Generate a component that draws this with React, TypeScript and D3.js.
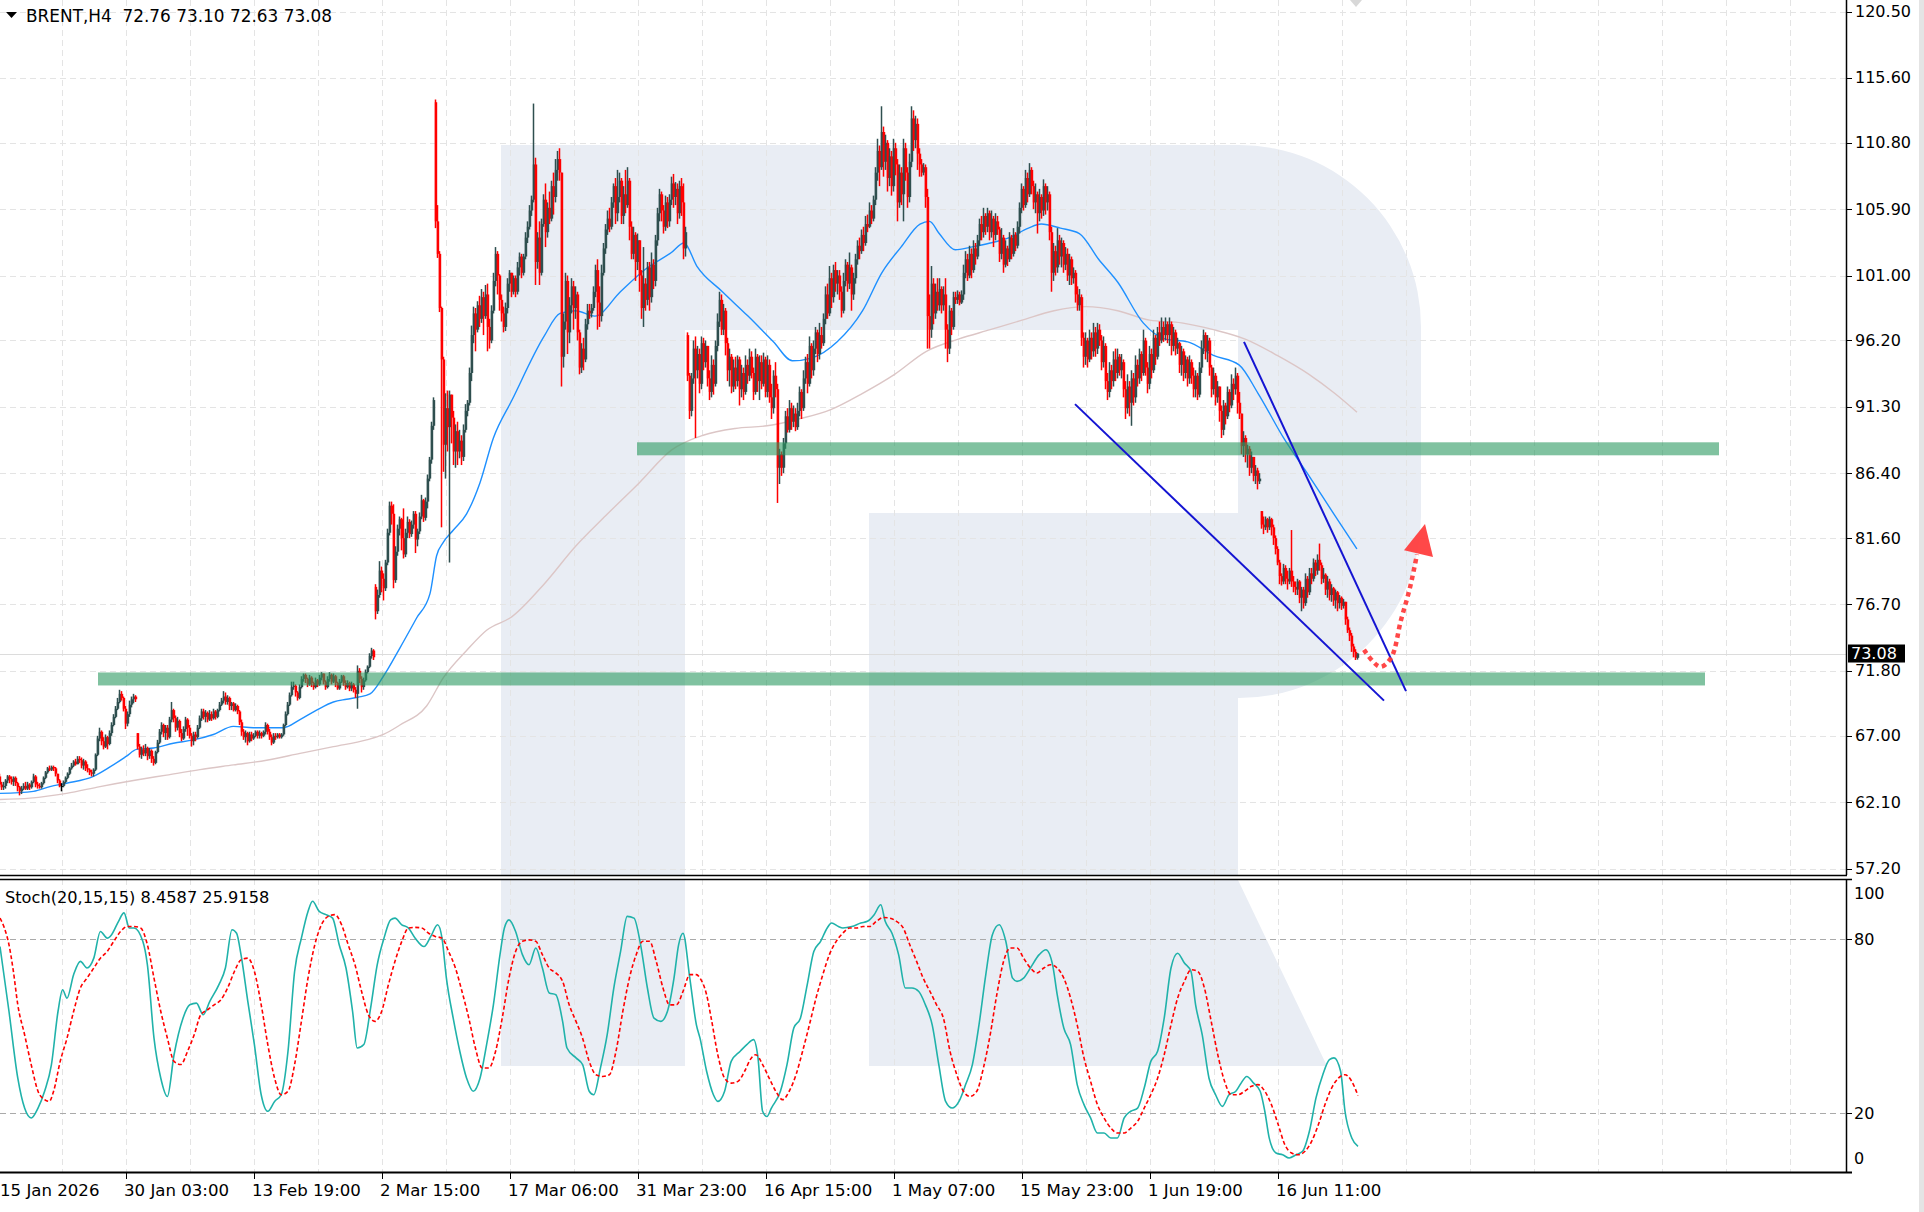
import React from "react";
import * as d3 from "d3";

// ---------- DATA ----------
// candles per block of 64 bars: [high, low, close, open?] (open given only where it differs from the previous close)
const blockJan = [
[64.2,63.2,63.4,64.0],[63.6,63.0,63.2],[63.6,63.0,63.3],[63.8,63.1,63.7],[64.1,63.5,64.0],[64.1,63.5,63.8],[64.0,63.4,63.6],[64.0,63.3,63.9],
[64.0,63.3,63.5],[63.6,62.9,63.2],[63.3,62.6,62.9],[63.3,62.7,63.1],[63.5,63.0,63.3],[63.6,63.0,63.1],[63.6,63.0,63.4],[63.5,63.0,63.2],
[63.7,63.1,63.6],[64.2,63.5,64.0],[64.1,63.2,63.4],[63.6,63.1,63.3],[63.5,63.1,63.2],[63.6,63.1,63.5],[64.0,63.4,63.9],[64.4,63.8,64.3],
[64.7,64.2,64.6],[64.8,64.4,64.5],[64.8,64.4,64.7],[64.8,64.4,64.6],[64.7,64.0,64.2],[64.2,63.5,63.7],[63.8,63.2,63.3],[63.5,62.9,63.3],
[63.7,63.2,63.6],[64.0,63.5,63.9],[64.3,63.8,64.2],[64.7,64.1,64.6],[65.0,64.5,64.8],[65.2,64.7,65.1],[65.3,64.8,64.9],[65.5,64.9,65.3],
[65.5,65.0,65.2],[65.4,64.6,64.8],[65.3,64.5,65.1],[65.2,64.4,64.6],[64.9,64.3,64.5],[64.6,64.1,64.3],[64.5,64.0,64.2],[64.6,64.0,64.5],
[65.7,64.4,65.6],[67.0,65.5,66.8],[67.6,66.6,67.3],[67.4,66.3,66.6],[66.9,66.0,66.2],[67.1,66.1,66.9],[67.0,66.0,66.4],[67.4,66.3,67.2],
[68.0,67.0,67.8],[68.6,67.7,68.4],[69.2,68.3,69.0],[69.8,68.9,69.5],[70.4,69.4,70.1],[70.3,69.6,69.8],[69.9,68.8,69.0],[69.2,67.5,67.9]];
const blockFeb1 = [
[68.8,67.7,68.6],[69.6,68.4,69.3],[69.9,69.1,69.7],[70.1,69.4,69.9],[70.0,69.5,69.7],[67.2,66.0,66.2,67.2],[66.4,65.4,65.6],[66.2,65.3,66.0],
[66.3,65.5,65.7],[66.4,65.5,66.1],[66.2,65.2,65.5],[66.1,65.3,65.9],[66.0,65.0,65.3],[65.5,64.8,65.0],[65.9,64.9,65.8],[66.7,65.7,66.5],
[67.5,66.4,67.3],[68.0,67.1,67.8],[67.9,66.9,67.2],[67.8,66.7,67.6],[67.8,66.7,66.9],[68.4,66.8,68.2],[69.5,68.0,68.9],[69.0,68.0,68.3],
[68.5,67.3,67.6],[68.4,67.4,68.1],[68.2,66.9,67.2],[67.5,66.6,66.8],[67.7,66.7,67.5],[68.4,67.3,68.2],[68.3,67.0,67.6],[67.8,66.8,67.0],
[67.2,66.2,66.6],[67.3,66.3,67.1],[67.3,66.6,66.9],[67.8,66.8,67.6],[68.5,67.5,68.3],[69.0,68.1,68.8],[69.0,68.2,68.4],[68.9,68.0,68.7],
[68.8,68.0,68.2],[68.9,68.1,68.6],[68.8,68.1,68.3],[69.0,68.2,68.8],[68.9,68.2,68.4],[69.0,68.3,68.9],[69.5,68.8,69.3],[69.8,69.2,69.6],
[70.3,69.4,69.9],[70.2,69.3,69.5],[70.0,69.3,69.8],[69.9,68.9,69.2],[69.5,68.9,69.4],[69.5,68.8,68.9],[69.4,68.8,69.2],[69.3,68.6,68.8],
[68.9,67.8,68.0],[68.2,67.0,67.3],[67.5,66.7,66.9],[67.4,66.5,67.2],[67.3,66.3,66.6],[67.3,66.5,67.1],[67.3,66.6,66.8],[67.2,66.7,67.0]];
const blockFeb2 = [
[67.4,66.9,67.3],[67.4,66.8,67.0],[67.4,66.8,67.2],[67.3,66.8,67.0],[67.4,66.9,67.3],[68.0,67.1,67.8],[67.9,67.1,67.3],[67.5,66.7,66.9],
[67.1,66.3,66.5],[67.2,66.4,67.0],[67.2,66.7,66.9],[67.2,66.8,67.1],[67.2,66.8,66.9],[67.2,66.8,67.1],[67.9,67.0,67.8],[68.8,67.7,68.6],
[69.5,68.5,69.3],[70.2,69.2,70.0],[71.0,69.9,70.6],[71.0,70.4,70.7],[70.8,69.9,70.2],[70.3,69.6,69.8],[70.8,69.7,70.6],[71.4,70.5,71.2],
[71.6,71.0,71.5],[71.6,70.9,71.2],[71.3,70.6,70.8],[71.5,70.7,71.3],[71.4,70.6,70.9],[71.0,70.4,70.6],[71.3,70.5,71.1],[71.2,70.6,70.8],
[71.5,70.7,71.3],[71.7,71.1,71.6],[71.6,70.8,71.0],[71.1,70.4,70.6],[71.4,70.5,71.2],[71.7,71.0,71.5],[71.6,70.8,71.0],[71.6,70.9,71.4],
[71.5,70.6,70.9],[71.0,70.4,70.5],[71.2,70.4,71.0],[71.5,70.9,71.4],[71.5,70.7,70.9],[71.1,70.4,70.6],[71.1,70.5,70.9],[71.0,70.3,70.5],
[71.0,70.3,70.8],[70.9,70.2,70.4],[70.6,69.8,70.1],[72.2,69.0,71.8],[72.0,70.9,71.2],[71.4,70.2,70.6],[71.3,70.4,71.1],[71.9,71.0,71.7],
[72.2,71.6,72.1],[73.1,72.0,72.9],[73.5,72.7,73.3],[73.4,72.6,72.8],[78.2,75.6,76.2,78.0],[77.8,76.0,77.4],[79.9,77.2,79.2],[79.5,77.6,78.6]];
const blockMar1 = [
[79.0,77.0,77.9],[80.0,77.7,79.8],[82.3,79.6,82.0],[84.3,81.8,84.0],[84.3,82.6,83.4],[84.1,77.9,78.5],[81.0,78.3,80.6],[82.6,80.3,82.3],
[83.2,81.8,83.0],[83.1,80.7,81.6],[83.8,80.1,80.4],[82.3,80.2,82.0],[83.2,81.6,82.8],[83.0,81.6,81.9],[82.9,81.7,82.6],[83.6,82.3,83.4],
[83.6,80.5,81.5],[82.3,81.0,82.1],[83.5,81.9,83.2],[84.8,83.0,84.4],[84.5,82.8,83.1],[84.6,82.9,84.3],[86.3,83.8,86.0],[87.6,85.8,87.4],
[90.2,87.1,89.9],[92.0,89.6,91.8],[114.0,104.5,105.0,113.8],[106.2,102.3,102.6],[102.8,98.3,98.6],[98.7,82.4,94.8],[95.0,86.5,88.5],[92.3,86.0,91.2],
[92.5,88.0,89.8],[92.5,79.8,92.2],[92.2,88.6,90.5],[91.0,87.0,88.0],[90.0,86.8,89.5],[90.2,87.0,88.0],[89.6,87.5,88.8],[89.2,87.0,87.6],
[90.0,87.3,89.6],[91.5,89.4,91.0],[91.8,90.6,91.6],[94.2,91.4,93.8],[97.3,93.2,96.6],[98.7,96.0,98.2],[98.6,95.4,97.0],[99.1,96.8,98.8],
[99.5,97.2,97.8],[100.0,97.5,99.4],[99.8,96.6,98.0],[100.3,97.8,99.6],[100.4,95.4,97.2],[97.8,95.6,96.2],[98.8,96.0,98.4],[101.2,98.2,100.6],
[103.1,100.2,102.6],[102.8,99.6,101.0],[101.1,98.4,99.2],[99.6,97.6,98.2],[98.7,96.8,97.2],[99.0,96.9,98.6],[100.8,98.2,100.4],[101.4,99.8,101.2]];
const blockMar2 = [
[101.2,99.4,99.8],[101.0,99.6,100.8],[101.0,99.4,99.8],[102.0,99.6,101.6],[102.7,101.0,102.4],[102.6,100.8,101.2],[102.6,101.0,102.4],[104.2,102.2,103.8],
[105.0,103.4,104.6],[106.2,104.4,105.8],[106.9,105.4,106.6],[113.7,106.4,109.2],[109.7,100.3,102.0],[104.2,101.5,103.8],[105.0,100.3,101.2],[105.2,101.0,104.8],
[107.0,104.6,106.6],[107.8,103.1,104.2],[106.4,103.8,106.0],[107.2,104.8,105.2],[108.0,105.0,107.6],[108.6,105.5,106.8],[109.6,106.4,108.8],[110.2,108.0,109.6],
[110.4,108.0,108.6],[108.6,92.8,95.0],[98.2,94.2,97.6],[101.2,97.0,100.6],[101.0,95.2,96.8],[99.4,96.0,98.8],[100.8,98.2,100.2],[100.6,97.0,98.6],
[100.2,97.8,99.6],[99.8,96.2,96.8],[97.0,93.7,94.2],[96.0,93.8,95.6],[96.4,94.0,94.8],[97.8,94.6,97.4],[98.9,97.0,98.4],[98.9,97.8,98.2],
[98.9,97.9,98.6],[100.2,98.4,99.8],[101.8,99.4,101.4],[102.2,97.0,99.0],[100.2,97.2,98.0],[101.8,97.6,101.2],[103.4,101.0,103.0],[104.8,102.6,104.4],
[105.8,104.0,105.2],[106.0,104.2,104.6],[106.8,104.4,106.4],[107.8,106.0,107.6],[108.2,104.8,105.6],[108.8,105.0,106.8],[108.6,106.4,108.0],[108.2,104.8,105.4],
[107.6,104.8,107.0],[108.8,105.6,106.2],[109.0,106.0,108.0],[108.2,103.6,104.6],[105.0,102.2,102.6],[104.6,102.2,104.0],[104.2,100.6,102.0],[104.1,101.4,103.6]];
const blockApr1 = [
[103.6,99.8,101.0],[101.4,97.8,98.6],[103.1,97.2,100.4],[100.8,98.4,99.2],[102.0,98.8,101.6],[102.0,98.4,99.4],[102.7,99.0,101.8],[102.2,100.0,100.6],
[104.0,100.2,103.6],[106.0,103.2,105.6],[107.4,105.0,107.0],[107.2,105.0,105.8],[106.2,104.1,104.6],[106.9,104.3,106.4],[106.8,104.5,105.0],[107.0,104.6,106.6],
[108.3,106.2,107.8],[108.5,106.0,106.8],[107.9,106.2,107.4],[107.8,104.8,105.6],[108.0,105.2,107.6],[108.2,105.4,106.4],[107.8,102.2,103.0],[104.6,102.4,104.2],
[96.8,93.2,93.6,96.6],[93.8,90.4,91.0],[93.8,90.6,93.4],[96.2,93.0,95.6],[96.5,89.0,94.0],[95.8,93.4,95.2],[95.6,92.3,93.0],[96.5,92.6,96.0],
[96.4,94.0,94.6],[96.2,94.2,95.8],[95.8,92.8,93.4],[94.0,91.8,92.4],[95.1,92.0,94.4],[94.8,92.2,93.0],[96.2,92.8,95.8],[98.2,95.4,97.6],
[99.8,97.2,99.2],[99.6,96.6,97.0],[98.9,96.6,98.4],[98.6,95.1,96.0],[96.4,93.2,94.0],[95.6,92.8,95.0],[95.2,92.3,92.8],[94.8,92.4,94.2],
[95.0,92.6,93.2],[95.1,92.8,94.8],[95.0,91.4,92.6],[94.4,92.0,93.8],[94.2,91.8,92.4],[95.1,92.2,94.4],[94.8,93.0,93.6],[95.6,93.2,95.0],
[95.4,93.4,93.8],[94.2,91.8,92.4],[95.6,92.2,95.0],[95.2,92.4,93.2],[95.1,91.8,94.6],[95.1,92.6,93.0],[95.3,92.8,94.8],[95.0,92.0,92.4]];
const blockApr2 = [
[95.1,92.0,94.4],[94.8,91.6,92.0],[93.0,90.4,91.2],[94.0,90.8,93.6],[94.6,92.0,92.6],[93.0,84.2,86.8],[88.2,85.6,87.8],[88.0,86.2,86.8],
[89.0,86.4,88.6],[91.0,88.2,90.6],[91.2,89.4,89.6],[91.8,89.4,91.2],[91.6,89.6,90.2],[91.4,89.8,90.8],[91.2,89.5,89.8],[91.6,89.6,91.0],
[92.8,90.6,92.4],[92.6,90.4,91.2],[94.0,91.0,93.4],[95.0,93.0,94.6],[95.2,92.3,93.0],[96.5,92.8,95.8],[96.0,93.4,94.0],[96.2,93.6,95.6],
[97.2,95.2,96.8],[97.0,94.6,95.2],[97.5,94.8,96.6],[97.2,95.6,96.0],[98.2,95.8,97.8],[100.2,97.4,99.6],[100.4,97.8,98.2],[101.7,98.0,100.8],
[101.2,98.6,99.4],[101.8,99.0,101.4],[102.0,99.8,100.4],[101.4,99.6,101.0],[101.4,99.2,99.8],[100.2,97.9,98.4],[101.2,98.2,100.6],[102.2,100.2,101.8],
[102.0,99.8,100.4],[102.7,100.0,101.6],[101.8,98.4,99.6],[101.2,99.2,100.8],[102.6,100.4,102.2],[103.6,101.8,103.2],[103.8,102.2,102.8],[104.4,102.6,104.0],
[104.6,102.8,103.4],[105.4,103.2,104.8],[105.5,104.2,104.6],[106.4,104.5,105.8],[106.2,104.8,105.2],[106.9,105.0,106.6],[109.0,106.2,108.6],[111.1,108.0,110.2],
[110.6,107.6,109.0],[113.5,108.8,111.6],[112.0,108.3,109.4],[111.4,108.8,110.8],[111.0,107.2,108.2],[110.4,107.6,109.8],[110.2,106.9,107.6],[111.1,107.2,110.4]];
const blockMay1 = [
[110.8,108.4,109.2],[109.6,105.0,106.4],[109.2,106.0,108.6],[109.0,106.2,107.0],[111.1,105.0,110.4],[110.8,108.0,108.6],[109.0,106.0,106.8],[110.0,106.4,109.4],
[113.5,109.0,112.6],[113.2,110.2,111.0],[112.8,110.4,112.2],[112.6,108.8,110.0],[110.4,108.3,109.2],[109.6,108.3,108.6],[109.3,108.4,109.0],[109.2,106.0,106.8],
[107.4,95.6,98.0],[99.6,95.6,97.0],[101.7,96.4,100.4],[100.8,97.4,98.2],[100.4,97.8,99.8],[100.8,98.4,98.8],[100.8,98.4,100.0],[100.2,98.2,98.8],
[100.2,98.4,99.6],[100.8,95.6,97.0],[97.4,94.6,95.6],[98.8,95.2,98.4],[98.6,96.6,97.2],[99.8,97.0,99.4],[99.8,98.9,99.2],[99.9,98.9,99.6],
[99.8,98.8,99.0],[99.9,98.9,99.6],[101.8,99.2,101.2],[102.8,100.8,102.2],[102.6,100.6,101.0],[103.2,100.8,102.6],[103.0,100.8,101.4],[103.6,101.2,103.0],
[103.4,101.8,102.4],[104.0,102.2,103.6],[105.2,103.2,104.8],[105.4,103.6,104.2],[106.0,103.8,105.4],[105.6,104.0,104.6],[106.0,104.2,105.6],[105.8,103.6,104.2],
[105.8,103.8,105.2],[105.4,103.1,104.0],[105.6,103.6,105.0],[105.4,104.0,104.4],[104.6,102.0,102.6],[104.5,102.2,103.8],[104.0,101.2,101.8],[103.6,101.6,103.0],
[103.2,101.7,102.2],[104.2,102.0,103.8],[104.0,102.2,102.6],[104.5,102.4,104.0],[104.2,102.8,103.2],[105.0,103.0,104.6],[106.4,104.1,106.0],[107.8,105.6,107.4]];
const blockMay2 = [
[107.6,105.8,106.2],[108.8,106.0,108.2],[108.6,106.4,107.0],[109.3,106.8,108.8],[109.0,107.0,107.6],[108.0,105.9,106.4],[107.8,105.6,107.0],[107.2,104.1,105.6],
[107.4,105.0,106.8],[107.0,105.2,105.8],[108.1,105.4,107.6],[107.8,105.5,106.4],[107.6,105.8,107.0],[107.2,103.6,104.2],[104.6,99.8,101.2],[103.4,100.6,102.8],
[103.2,101.0,101.6],[104.5,101.2,103.6],[104.0,101.8,102.4],[103.8,101.6,103.4],[103.6,101.2,101.8],[103.1,101.4,102.6],[103.0,100.6,101.0],[102.6,100.3,102.2],
[102.4,100.3,100.8],[101.6,100.4,101.2],[101.4,99.0,99.6],[100.2,98.4,98.8],[100.0,98.4,99.4],[99.6,95.8,96.4],[96.8,94.2,95.0],[96.8,94.4,96.2],
[96.4,94.2,94.8],[97.0,94.6,96.4],[96.8,94.8,95.4],[97.5,95.0,96.8],[97.2,95.0,95.6],[97.5,95.2,97.0],[97.4,95.8,96.2],[96.6,94.0,94.6],
[96.5,94.2,95.8],[96.0,92.6,93.2],[93.8,91.8,92.4],[94.6,92.0,94.0],[94.4,92.6,93.2],[95.4,92.8,94.8],[95.6,93.2,93.8],[95.6,93.4,95.0],
[95.2,93.6,94.0],[95.2,93.4,94.6],[94.8,92.0,92.6],[93.2,90.4,91.2],[93.7,90.8,92.8],[93.2,90.6,91.6],[94.0,89.9,93.4],[93.8,91.4,92.0],
[95.1,91.6,94.4],[94.8,92.8,93.4],[95.6,93.0,95.2],[95.4,93.2,93.8],[97.0,93.6,96.2],[96.4,93.6,94.2],[94.6,92.3,93.0],[95.8,92.6,95.2]];
const blockJun1 = [
[95.6,93.4,94.0],[97.0,93.8,96.4],[96.6,94.4,95.0],[97.2,94.8,96.8],[97.6,95.8,96.2],[97.9,96.0,97.2],[97.6,96.1,96.6],[97.9,96.2,97.4],
[97.6,96.0,96.6],[97.9,95.8,97.4],[97.6,95.1,95.8],[97.2,95.4,96.8],[97.0,95.1,95.6],[96.4,95.2,96.0],[96.1,93.8,94.4],[95.8,93.6,95.4],
[95.6,93.2,93.8],[95.1,93.4,94.8],[95.0,92.8,93.4],[95.1,93.0,94.6],[94.8,93.0,93.6],[94.2,92.0,92.6],[94.0,92.0,93.6],[93.8,91.8,92.2],
[94.6,92.0,94.2],[96.2,93.8,95.6],[97.0,95.2,96.6],[96.8,94.8,95.4],[96.6,94.6,96.2],[96.4,93.6,94.2],[94.4,92.0,92.6],[94.2,92.2,93.6],
[93.8,91.4,92.0],[93.2,91.6,92.8],[92.8,90.2,91.0],[91.4,89.0,89.6],[91.8,89.2,91.4],[91.6,90.0,90.6],[92.8,90.4,92.4],[92.6,90.9,91.4],
[93.7,91.2,93.0],[93.4,91.8,92.6],[94.2,92.2,93.6],[93.8,90.8,91.6],[92.4,90.4,90.8],[90.8,87.8,88.4],[89.5,87.6,89.0],[89.2,87.2,87.8],
[88.5,86.8,88.2],[88.4,86.2,86.8],[88.0,86.4,87.6],[87.6,85.8,86.2],[87.0,85.6,86.6],[86.8,85.2,85.8],[86.4,85.6,86.0],[83.6,82.3,82.6,83.6],
[83.2,81.9,82.4],[83.2,82.2,83.0],[83.1,82.0,82.4],[83.2,82.2,83.0],[83.1,81.8,82.4],[82.6,81.1,81.6],[81.8,80.4,80.8],[81.0,79.6,79.8]];
const blockJun2 = [
[80.0,78.2,78.8],[79.0,78.1,78.4],[79.7,78.2,79.4],[79.6,78.2,78.6],[79.2,77.8,78.4],[79.4,78.2,79.2],[82.2,78.0,78.4],[78.8,77.6,78.0],
[78.4,77.4,77.8],[78.6,77.4,78.4],[78.5,76.8,77.2],[78.0,76.2,77.8],[78.0,76.4,76.8],[79.0,76.6,78.6],[78.8,77.2,77.6],[79.4,77.4,79.0],
[79.4,78.2,78.6],[80.1,78.4,79.8],[80.0,78.8,79.2],[80.4,78.9,80.0],[81.2,79.2,79.6],[79.8,78.2,78.6],[79.4,78.3,78.9],[79.0,77.4,77.8],
[78.8,77.2,78.4],[78.6,77.0,77.4],[78.2,76.9,77.9],[78.0,76.6,77.0],[77.8,76.4,77.6],[77.7,76.2,76.8],[77.4,76.4,77.2],[77.3,76.3,76.6],
[77.1,76.4,76.9],[76.9,75.2,75.6],[75.8,74.6,74.8],[75.0,74.0,74.4],[74.6,73.2,73.6],[73.8,72.8,73.2],[73.4,72.6,72.76],[73.10,72.63,73.08]];

// moving averages: [bar, price]
const maFast = [[1,62.75],[17.7,62.9],[26,63.25],[34.3,63.5],[47.7,64.0],[56,64.7],[64.3,65.5],[69.3,66.0],[77.7,66.1],[87.7,66.45],[97.7,66.7],[107.7,67.1],[117.7,67.7],[127.7,67.6],[142.7,67.6],[151,68.2],[159.3,68.9],[167.7,69.5],[174.3,69.7],[180,69.85],[186,70.1],[192.7,71.4],[201,73.5],[209.3,75.7],[216,77.5],[219.3,80.3],[222.7,81.3],[227.7,82.2],[234.3,83.4],[241,85.7],[247.7,89.0],[257,91.8],[273,96.5],[281,98.2],[288.8,98.4],[298.4,98.0],[311.2,99.8],[324,101.5],[336.7,102.7],[343,103.4],[349.4,101.7],[362.2,99.8],[375,98.0],[387.7,96.1],[397.2,94.7],[406.8,94.9],[419.6,96.1],[432.3,98.4],[441.9,101.2],[451.5,103.1],[461,104.8],[465.8,105.0],[470.6,104.1],[478.6,102.9],[486.5,103.1],[496.1,103.4],[505.7,103.8],[515.2,104.5],[521.6,104.8],[531.2,104.5],[540.7,104.1],[550.3,102.2],[559.9,100.5],[572.6,97.5],[583.8,96.3],[594.9,96.1],[607.7,95.1],[620.5,94.4],[630,92.3],[642.8,89.0],[655.5,86.2],[668.3,83.3],[679.5,80.8]];
const maSlow = [[1,62.3],[16,62.4],[34.3,62.75],[51,63.25],[67.7,63.7],[84.3,64.1],[101,64.5],[117.7,64.85],[134.3,65.2],[151,65.7],[167.7,66.2],[184.3,66.7],[192.7,67.1],[201,67.8],[214.3,69.2],[222.7,71.3],[234.3,73.3],[244.3,74.8],[257,75.8],[273,78.2],[288.8,81.0],[304.8,83.4],[320.7,85.7],[336.7,88.1],[352.6,89.2],[368.6,89.7],[384.5,89.9],[400.4,90.4],[416.4,91.1],[432.3,92.3],[448.3,93.7],[464.2,95.4],[480.2,96.3],[496.1,97.0],[512,97.7],[528,98.4],[544,98.7],[559.9,98.4],[575.8,97.7],[591.8,97.5],[607.7,97.0],[623.6,96.3],[639.6,95.1],[655.5,93.7],[668.3,92.3],[679.5,90.9]];

// stochastic: [bar, value]
const stochMain = [[1,77.4],[5.5,55],[9.9,32],[13.3,21.7],[16.6,18.3],[20,21.7],[23.3,27.5],[26.7,36.6],[30,55],[32.3,62.5],[34.5,59.6],[37.8,67.7],[41.2,72.3],[44.5,70],[47.9,73.4],[51.2,82.6],[54.6,80.3],[56.8,81.5],[60.2,86],[63,89],[65.7,83.8],[68,83.8],[72.4,79.2],[74.7,71.1],[78,45.8],[81.4,32],[84.7,25.7],[88,40],[92.5,52.7],[95.9,57.3],[99.2,57.9],[102.6,53.9],[105.9,58.5],[110.4,64.2],[113.7,70],[117,83.2],[119.3,82],[121.5,74.6],[124.9,58.5],[128.2,43.6],[131.6,26.3],[134.9,20.6],[138.3,24],[141.6,26.3],[145,41.3],[148.3,68.8],[151.7,80.3],[155,89.5],[157.3,93],[160.6,89.5],[164,88.4],[167.3,87.2],[170.6,78],[174,70],[177.3,55],[179.6,42.4],[182.9,43.6],[186.3,56.2],[189.6,71.1],[193,80.3],[196.3,86.6],[198.5,87.2],[201.9,84.9],[205.2,83.8],[208.6,80.3],[213,77.4],[216.4,80.9],[219.8,84.9],[222,80.3],[224.2,66.5],[227.6,52.7],[230.9,41.3],[234.3,32],[237.6,27.5],[241,32],[244.3,43.6],[247.7,57.3],[251,74.6],[253.2,83.8],[255.5,86.6],[258.8,82.6],[262.2,74.6],[265.5,71.1],[268.9,76.9],[272.2,70],[275.6,61.4],[278.9,60.8],[282.3,51.6],[284.5,42.4],[289,39],[292.3,36.7],[295.6,27.5],[297.9,26.3],[301.2,35.5],[304.6,47],[307.9,63.1],[311.3,75.7],[314.6,87.8],[318,87.2],[321.3,78],[324.7,63.1],[328,52.7],[331.4,51.6],[334.7,55],[338,66.5],[340.3,78],[342.5,82],[345.9,66.5],[349.2,50.4],[351,45.8],[354.3,34.4],[357.7,26.3],[359.9,24],[363.3,27.5],[366.6,37.8],[371.1,41.3],[374.4,43.6],[377.8,45.3],[380,39],[382.3,20.6],[384.5,18.8],[386.7,21.7],[391.2,27.5],[394.5,36.7],[397.9,49.3],[401.2,52.7],[404.6,64.2],[407.9,75.7],[411.3,79.2],[414.6,83.8],[416.8,85.5],[420.2,84.3],[422.4,83.8],[426.9,84.3],[431.4,85.5],[434.7,86.1],[438.1,88.4],[441.4,91.8],[443.6,86.1],[447,82],[450.3,74.6],[453.7,63.1],[457,63.1],[460.4,61.9],[463.7,57.3],[467.1,50.4],[470.4,36.7],[473.8,24],[477.1,21.7],[480.5,24],[483.8,29.8],[487.2,36.7],[490.5,50.4],[493.9,67.7],[497.2,81.5],[500.6,84.9],[503.9,79.2],[507.3,66.5],[509.5,65.4],[512.8,66.5],[516.2,70],[520.6,74.6],[524,76.3],[527.3,71.1],[529.6,60.8],[532.9,49.3],[536.3,43.6],[539.6,29.8],[543,22.9],[546.3,18.3],[549.7,13.1],[553,13.1],[556.4,11.4],[559.7,11.4],[563.1,18.3],[566.4,20.6],[569.8,21.7],[573.1,28.6],[576.4,37.8],[579.8,41.3],[583.1,52.7],[586.5,70],[589.8,75.1],[593.2,71.7],[596.5,68.8],[598.8,57.3],[602.1,47],[605.5,32],[608.8,26.3],[612.2,22.3],[615.5,26.3],[618.9,27.5],[621.1,29.8],[624.4,32.6],[627.8,30.3],[631.1,27.5],[633.4,20.6],[635.6,11.4],[639,6.2],[642.3,5.6],[645.6,4.5],[649,5.6],[652.3,6.8],[655.7,13.7],[659,25.2],[662.4,33.2],[665.7,38.4],[668,39],[671.3,34.4],[673.5,20.6],[676.9,11.4],[680,8.5]];
const stochSignal = [[1,87.2],[3.2,83.8],[5.5,78],[7.7,68.8],[9.9,57.3],[13.3,47],[16.6,36.7],[20,27.5],[23.3,24.6],[25.6,24],[27.8,27.5],[31.1,37.8],[34.5,45.8],[37.8,55],[41.2,63.1],[44.5,66.5],[47.9,70],[51.2,73.4],[54.6,75.7],[57.9,79.2],[61.3,82.6],[64.6,84.3],[68,84.3],[71.3,83.8],[74.7,78],[78,66.5],[81.4,55],[84.7,45.8],[88,37.8],[91.4,36.7],[94.8,41.3],[98.1,47],[101.4,53.9],[104.8,55.6],[108.1,57.3],[111.5,59.1],[114.8,63.1],[118.2,68.8],[121.5,72.8],[124.9,73.4],[128.2,68.8],[131.6,57.3],[134.9,43.6],[138.3,32],[141.6,26.3],[145,27.5],[148.3,36.7],[151.7,51.6],[155,66.5],[158.4,78],[161.7,84.9],[165.1,87.8],[168.4,88.4],[171.8,84.9],[175.1,78],[178.5,71.1],[181.8,61.9],[185.2,53.9],[188.5,51.6],[191.8,55],[195.2,64.2],[198.5,72.3],[201.9,79.2],[205.2,83.8],[208.6,84],[211.9,83.8],[215.3,82],[218.6,80.9],[222,80.3],[225.3,75.7],[228.7,70],[232,61.9],[235.4,52.7],[238.7,42.4],[242.1,35.5],[245.4,35.5],[248.8,41.3],[252.1,52.7],[255.5,66.5],[258.8,75.7],[262.2,79.2],[265.5,79.7],[268.9,79.2],[272.2,74.6],[275.6,70],[278.9,68.3],[282.3,65.4],[285.6,57.3],[289,51.6],[292.3,45.8],[295.6,37.8],[299,33.2],[302.3,32.6],[305.7,33.2],[309,41.3],[312.4,55],[315.7,66.5],[319.1,74.6],[322.4,79.2],[325.8,79.2],[329.1,72.3],[332.5,63.1],[335.8,57.3],[339.2,57.3],[342.5,61.9],[345.9,67.7],[349.2,67.7],[351,66.5],[354.3,60.8],[356.6,52.7],[359.9,40.1],[363.3,32],[366.6,30.3],[370,30.9],[373.3,34.4],[376.7,39],[378.9,40.1],[382.3,36.7],[385.6,32],[388.9,27.5],[392.3,24.6],[395.6,27.5],[399,33.2],[402.3,41.3],[405.7,50.4],[409,59.6],[412.4,67.7],[415.7,74.6],[419.1,79.2],[422.4,82],[425.8,83.8],[429.1,83.8],[432.5,84.3],[435.8,84.3],[439.2,86.1],[442.5,87.4],[445.9,87.2],[449.2,86.1],[452.6,83.8],[455.9,78],[459.3,72.3],[462.6,66.5],[466,61.9],[469.3,57.3],[472.7,52.7],[476,41.3],[479.4,33.2],[482.7,27.5],[486,25.7],[489.4,27.5],[492.7,35.5],[496.1,47],[499.4,60.8],[502.8,72.3],[506.1,76.9],[509.5,76.9],[512.8,73.4],[516.2,70],[519.5,68.3],[522.9,70],[526.2,71.1],[529.6,70],[532.9,66.5],[536.3,59.6],[539.6,50.4],[543,39],[546.3,30.9],[549.7,22.9],[553,18.3],[556.4,14.8],[559.7,13.1],[563.1,13.1],[566.4,14.8],[569.8,17.1],[573.1,21.7],[576.4,26.3],[579.8,32],[583.1,40.1],[586.5,50.4],[589.8,59.6],[593.2,65.4],[596.5,69.4],[599.9,68.8],[603.2,63.1],[606.6,51.6],[609.9,40.1],[613.3,30.9],[616.6,26.3],[620,26.3],[623.3,27.5],[626.7,29.2],[630,29.8],[633.4,27.5],[636.7,22.9],[640.1,16],[643.4,9.1],[646.8,6.2],[650.1,5.6],[653.5,6.8],[656.8,10.2],[660.2,16],[663.5,22.9],[666.8,28.6],[670.2,32],[673.5,33.2],[676.9,30.9],[680,26]];

// axis ticks
const priceTicks = [120.5,115.6,110.8,105.9,101.0,96.2,91.3,86.4,81.6,76.7,71.8,67.0,62.1,57.2];
const timeLabels = ["15 Jan 2026","30 Jan 03:00","13 Feb 19:00","2 Mar 15:00","17 Mar 06:00","31 Mar 23:00","16 Apr 15:00","1 May 07:00","15 May 23:00","1 Jun 19:00","16 Jun 11:00"];
const stochLevels = [80, 20];
const stochAxis = [100, 80, 20, 0];

// annotations: zones [fromBar, toBar, price], trend lines [[bar, price], [bar, price]]
const upperZone = [319.5, 860.5, 88.2];
const lowerZone = [50, 853.5, 71.2];
const upperTrend = [[623, 96.1], [704, 70.3]];
const lowerTrend = [[538.5, 91.5], [693, 69.6]];
const forecastPath = [[683, 73.35], [691, 72.1], [696.5, 72.75], [701.5, 75.55], [706, 77.95], [709.5, 80.4]];
const forecastHead = [[713.5, 82.65], [703, 80.7], [717.5, 80.2]];

const lastPrice = 73.08;
const headerText = "BRENT,H4  72.76 73.10 72.63 73.08";
const stochText = "Stoch(20,15,15) 8.4587 25.9158";

// ---------- COMPONENT ----------
const AXIS_X = 1846;
const MAIN_BOTTOM = 875;
const SUB_TOP = 879;
const SUB_BOTTOM = 1172;
const FONT = "'DejaVu Sans', Verdana, sans-serif";
const BULL = "#2F4F4F";
const BEAR = "#FF0000";
const WM = "#E9EDF4";

export default function App() {
  const x = d3.scaleLinear().domain([0, 64]).range([-2, 126]);
  const y = d3.scaleLinear().domain([57.2, 120.5]).range([868.5, 11.5]);
  const ys = d3.scaleLinear().domain([0, 100]).range([1171, 881]);

  const blocks = [blockJan, blockFeb1, blockFeb2, blockMar1, blockMar2, blockApr1, blockApr2, blockMay1, blockMay2, blockJun1, blockJun2];
  let prev = 0;
  const bars = blocks.flat().map((r, k) => {
    const o = r.length > 3 ? r[3] : prev;
    prev = r[2];
    return { i: k + 1, o, h: r[0], l: r[1], c: r[2] };
  });

  const priceLine = d3.line<number[]>().x((d) => x(d[0])).y((d) => y(d[1])).curve(d3.curveMonotoneX);
  const stochLine = d3.line<number[]>().x((d) => x(d[0])).y((d) => ys(d[1])).curve(d3.curveMonotoneX);
  const arrowLine = d3.line<number[]>().x((d) => x(d[0])).y((d) => y(d[1])).curve(d3.curveCatmullRom);

  const vGrid = d3.range(1, 29).map((k) => x(32 * k)).filter((v) => v < AXIS_X);

  const zoneRect = (z: number[], key: string) => (
    <rect key={key} x={x(z[0])} width={x(z[1]) - x(z[0])} y={y(z[2]) - 6.5} height={13}
      fill="rgb(43,153,97)" fillOpacity={0.6} />
  );

  return (
    <svg width={1924} height={1212} style={{ position: "absolute", left: 0, top: 0, display: "block", background: "#fff" }}
      fontFamily={FONT}>
      <defs>
        <clipPath id="mainClip"><rect x={0} y={0} width={AXIS_X} height={MAIN_BOTTOM} /></clipPath>
        <clipPath id="subClip"><rect x={0} y={SUB_TOP + 1} width={AXIS_X} height={SUB_BOTTOM - SUB_TOP - 1} /></clipPath>
      </defs>
      <rect x={0} y={0} width={1924} height={1212} fill="#fff" />

      {/* watermark */}
      <g fill={WM}>
        <rect x={501} y={145} width={184} height={MAIN_BOTTOM - 145} />
        <path d="M685,145 H1239 A182,182 0 0 1 1421,327 V516 A182,182 0 0 1 1239,698 H869 V513 H1238 V330 H685 Z" />
        <rect x={869} y={698} width={369} height={MAIN_BOTTOM - 698} />
        <rect x={501} y={SUB_TOP + 1} width={184} height={1066 - SUB_TOP - 1} />
        <path d={`M869,${SUB_TOP + 1} H1238 L1327,1066 H869 Z`} />
      </g>

      {/* grid */}
      <g stroke="#E4E4E4" strokeWidth={1} strokeDasharray="6 4">
        {priceTicks.map((v) => (
          <line key={"hg" + v} x1={0} x2={AXIS_X} y1={Math.round(y(v)) + 0.5} y2={Math.round(y(v)) + 0.5} />
        ))}
        {vGrid.map((v) => (
          <line key={"vg" + v} x1={v + 0.5} x2={v + 0.5} y1={0} y2={MAIN_BOTTOM} />
        ))}
        {vGrid.map((v) => (
          <line key={"vgs" + v} x1={v + 0.5} x2={v + 0.5} y1={SUB_TOP} y2={SUB_BOTTOM} />
        ))}
      </g>

      {/* current price line */}
      <line x1={0} x2={AXIS_X} y1={Math.round(y(lastPrice)) + 0.5} y2={Math.round(y(lastPrice)) + 0.5} stroke="#DCDCDC" strokeWidth={1} />

      <g clipPath="url(#mainClip)">
        {/* moving averages */}
        <path d={priceLine(maSlow) || ""} fill="none" stroke="#DCC6C6" strokeWidth={1.4} />
        <path d={priceLine(maFast) || ""} fill="none" stroke="#1E90FF" strokeWidth={1.4} />

        {/* candles */}
        {bars.map((b) => {
          const col = b.c > b.o ? BULL : b.c < b.o ? BEAR : "#000";
          const top = y(Math.max(b.o, b.c));
          const bot = y(Math.min(b.o, b.c));
          const xb = x(b.i);
          return (
            <g key={"b" + b.i} fill={col}>
              <rect x={xb - 1.25} width={1.5} y={y(b.h)} height={Math.max(1, y(b.l) - y(b.h))} />
              <rect x={xb - 1.2} width={2.4} y={top} height={Math.max(1.2, bot - top)} />
            </g>
          );
        })}

        {/* zones */}
        {zoneRect(upperZone, "uz")}
        {zoneRect(lowerZone, "lz")}

        {/* trend lines */}
        <line x1={x(upperTrend[0][0])} y1={y(upperTrend[0][1])} x2={x(upperTrend[1][0])} y2={y(upperTrend[1][1])} stroke="#1414D2" strokeWidth={2} />
        <line x1={x(lowerTrend[0][0])} y1={y(lowerTrend[0][1])} x2={x(lowerTrend[1][0])} y2={y(lowerTrend[1][1])} stroke="#1414D2" strokeWidth={2} />

        {/* forecast arrow */}
        <path d={arrowLine(forecastPath) || ""} fill="none" stroke="#FF3333" strokeOpacity={0.9} strokeWidth={4.5} strokeDasharray="4.5 4" />
        <polygon points={forecastHead.map((p) => `${x(p[0])},${y(p[1])}`).join(" ")} fill="#FF3838" fillOpacity={0.92} />
      </g>

      {/* top marker */}
      <polygon points="1350,0 1362,0 1356,7" fill="#D8D8D8" />

      {/* header */}
      <polygon points="6,12 17,12 11.5,18" fill="#000" />
      <text x={26} y={15.5} fontSize={16.9} dominantBaseline="central" fill="#000" style={{ whiteSpace: "pre" }}>{headerText}</text>

      {/* panel borders */}
      <line x1={AXIS_X + 0.5} x2={AXIS_X + 0.5} y1={0} y2={MAIN_BOTTOM} stroke="#000" strokeWidth={1.5} />
      <line x1={0} x2={AXIS_X + 1} y1={MAIN_BOTTOM + 0.5} y2={MAIN_BOTTOM + 0.5} stroke="#000" strokeWidth={1.5} />
      <line x1={0} x2={AXIS_X + 6} y1={SUB_TOP + 0.5} y2={SUB_TOP + 0.5} stroke="#000" strokeWidth={1.5} />
      <line x1={AXIS_X + 0.5} x2={AXIS_X + 0.5} y1={SUB_TOP} y2={SUB_BOTTOM} stroke="#000" strokeWidth={1.5} />
      <line x1={0} x2={AXIS_X + 6} y1={SUB_BOTTOM + 0.5} y2={SUB_BOTTOM + 0.5} stroke="#000" strokeWidth={2} />

      {/* price axis */}
      {priceTicks.map((v) => (
        <g key={"pt" + v}>
          <line x1={AXIS_X} x2={AXIS_X + 6} y1={Math.round(y(v)) + 0.5} y2={Math.round(y(v)) + 0.5} stroke="#000" />
          <text x={AXIS_X + 9} y={y(v)} fontSize={16} dominantBaseline="central" fill="#000">{v.toFixed(2)}</text>
        </g>
      ))}
      <rect x={AXIS_X + 2} y={y(lastPrice) - 9} width={57} height={18} fill="#000" />
      <text x={AXIS_X + 5} y={y(lastPrice)} fontSize={16} dominantBaseline="central" fill="#fff">{lastPrice.toFixed(2)}</text>

      {/* stochastic panel */}
      <g stroke="#AAAAAA" strokeWidth={1.2} strokeDasharray="6 4">
        {stochLevels.map((v) => (
          <line key={"sl" + v} x1={0} x2={AXIS_X} y1={Math.round(ys(v)) + 0.5} y2={Math.round(ys(v)) + 0.5} />
        ))}
      </g>
      <g clipPath="url(#subClip)">
        <path d={stochLine(stochMain) || ""} fill="none" stroke="#20B2AA" strokeWidth={1.6} />
        <path d={stochLine(stochSignal) || ""} fill="none" stroke="#FF0000" strokeWidth={1.6} strokeDasharray="4 2.5" />
      </g>
      <text x={5} y={897.5} fontSize={16.2} dominantBaseline="central" fill="#000">{stochText}</text>
      {stochAxis.map((v) => {
        const yy = v === 100 ? 893 : v === 0 ? 1158 : ys(v);
        return (
          <g key={"sa" + v}>
            {v !== 100 && v !== 0 && (
              <line x1={AXIS_X} x2={AXIS_X + 6} y1={Math.round(ys(v)) + 0.5} y2={Math.round(ys(v)) + 0.5} stroke="#000" />
            )}
            <text x={AXIS_X + 8} y={yy} fontSize={16} dominantBaseline="central" fill="#000">{String(v)}</text>
          </g>
        );
      })}

      {/* time axis */}
      {timeLabels.map((t, k) => {
        const tx = x(64 * k);
        return (
          <g key={"tl" + k}>
            {k > 0 && <line x1={tx + 0.5} x2={tx + 0.5} y1={SUB_BOTTOM} y2={SUB_BOTTOM + 7} stroke="#000" />}
            <text x={Math.max(0, tx - 2)} y={1190} fontSize={16.6} dominantBaseline="central" fill="#000">{t}</text>
          </g>
        );
      })}

      {/* right edge strip */}
      <rect x={1919} y={0} width={5} height={1212} fill="#E4E4E4" />
    </svg>
  );
}
